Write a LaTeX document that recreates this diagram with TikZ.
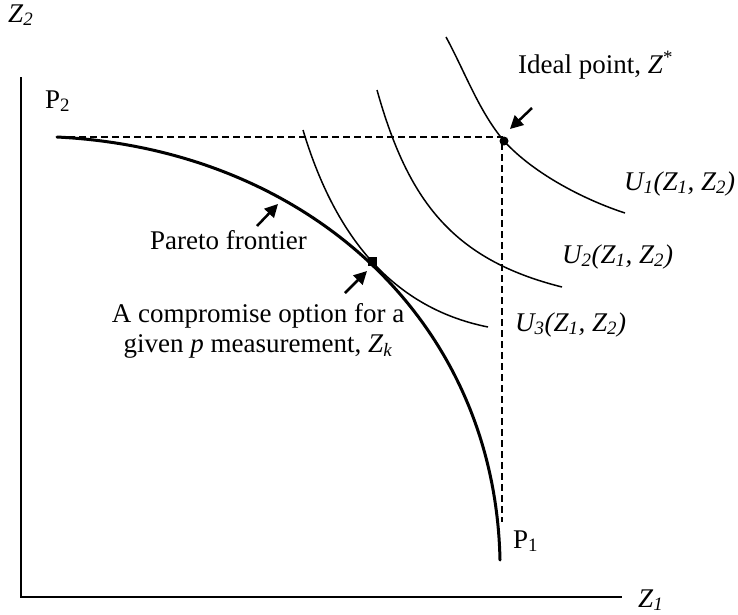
\documentclass[tikz,border=0pt]{standalone}
\usepackage{fontspec}
\setmainfont{Liberation Serif}
\usetikzlibrary{arrows.meta}
\begin{document}
\begin{tikzpicture}[x=1pt,y=-1pt,
  lbl/.style={inner sep=0pt, anchor=base west, font=\fontsize{27}{30}\selectfont},
  clbl/.style={lbl, anchor=base},
  axis/.style={line width=1.6pt},
  frontier/.style={line width=3pt, line cap=round},
  ucurve/.style={line width=1.5pt},
  guide/.style={line width=1.5pt, dash pattern=on 7pt off 4pt},
  pointer/.style={line width=2.5pt, -{Triangle[length=13pt,width=13pt]}},
]
\useasboundingbox (0,0) rectangle (738,614);

% axes
\coordinate (ytop) at (21,77);
\coordinate (O) at (21,597);
\coordinate (xend) at (622,597);
\draw[axis] (ytop) -- (O) -- (xend);
\node[lbl] (z2) at (8,22) {\textit{Z}\textsubscript{\textit{2}}};
\node[lbl] (z1) at (638,607) {\textit{Z}\textsubscript{\textit{1}}};

% key points
\coordinate (p2s) at (57,137);
\coordinate (corner) at (502,137);
\coordinate (vend) at (502,522);
\coordinate (p1e) at (500,560);
\node[circle, fill, minimum size=9pt, inner sep=0pt] (zstar) at (504,141) {};
\node[fill, minimum size=9pt, inner sep=0pt] (zk) at (372,261.5) {};

% dashed guides
\draw[guide] (p2s) -- (corner) -- (vend);

% Pareto frontier
\draw[frontier] (p2s) .. controls (307,149.5) and (495,320) .. (p1e);

% utility curves
\coordinate (u3s) at (303,130); \coordinate (u3e) at (488,327);
\coordinate (u2s) at (377,90);  \coordinate (u2e) at (562,287);
\coordinate (u1s) at (446,37);  \coordinate (u1e) at (625,213);
\draw[ucurve] (u3s) .. controls (333,230) and (388,307) .. (u3e);
\draw[ucurve] (u2s) .. controls (407.8,200) and (452,259.5) .. (u2e);
\draw[ucurve] (u1s) .. controls (465,72) and (479,111.5) .. (zstar.center)
  .. controls (534,174) and (585,200) .. (u1e);

% labels
\node[lbl] (p2) at (45,108) {P\textsubscript{2}};
\node[lbl] (p1) at (513,548) {P\textsubscript{1}};
\node[lbl] (ideal) at (518,73) {Ideal point, \textit{Z}\textsuperscript{*}};
\node[lbl] (u1) at (624,190) {\textit{U\textsubscript{1}(Z\textsubscript{1}, Z\textsubscript{2})}};
\node[lbl] (u2) at (562,263) {\textit{U\textsubscript{2}(Z\textsubscript{1}, Z\textsubscript{2})}};
\node[lbl] (u3) at (515,331) {\textit{U\textsubscript{3}(Z\textsubscript{1}, Z\textsubscript{2})}};
\node[lbl] (pareto) at (150,249) {Pareto frontier};
\node[clbl] (comp1) at (258,322) {A compromise option for a};
\node[clbl] (comp2) at (258,352) {given \textit{p} measurement, \textit{Z}\textsubscript{\textit{k}}};

% pointer arrows
\coordinate (a1s) at (532,108); \coordinate (a1e) at (510,129);
\coordinate (a2s) at (257,226); \coordinate (a2e) at (278,204);
\coordinate (a3s) at (345,293); \coordinate (a3e) at (367,271);
\draw[pointer] (a1s) -- (a1e);
\draw[pointer] (a2s) -- (a2e);
\draw[pointer] (a3s) -- (a3e);
\end{tikzpicture}
\end{document}
